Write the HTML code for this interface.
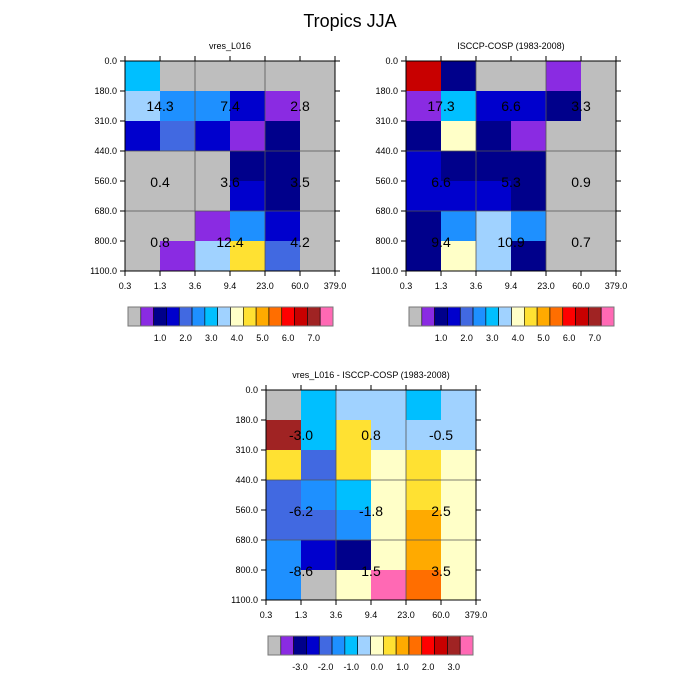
<!DOCTYPE html>
<html><head><meta charset="utf-8">
<style>
body{margin:0;background:#fff;}
svg{display:block;font-family:"Liberation Sans",sans-serif;}
</style></head>
<body>
<svg id="chart" width="700" height="700" viewBox="0 0 700 700">
<text x="350" y="27" text-anchor="middle" font-size="18">Tropics JJA</text>
</svg>
<script>
const palette=["#BEBEBE","#8A2BE2","#00008B","#0000CD","#4169E1","#1E90FF","#00BFFF","#A0D2FF","#FFFFC8","#FFE132","#FFAA00","#FF6E00","#FF0000","#C80000","#A02323","#FF69B4"];
const xTicks=["0.3","1.3","3.6","9.4","23.0","60.0","379.0"];
const yTicks=["0.0","180.0","310.0","440.0","560.0","680.0","800.0","1100.0"];
const gridA=[[6,0,0,0,0,0],[7,5,5,3,1,0],[3,4,3,1,2,0],[0,0,0,2,2,0],[0,0,0,3,2,0],[0,0,1,5,3,0],[0,1,7,9,4,0]];
const gridB=[[13,2,0,0,1,0],[1,6,3,3,2,0],[2,8,2,1,0,0],[3,2,2,2,0,0],[3,3,3,2,0,0],[2,5,7,5,0,0],[2,8,7,2,0,0]];
const gridC=[[0,6,7,7,6,7],[14,6,9,7,7,7],[9,4,9,8,9,8],[4,5,6,8,9,8],[4,4,5,8,10,8],[5,3,2,8,10,8],[5,0,8,15,11,8]];
const valsA=[["14.3","7.4","2.8"],["0.4","3.6","3.5"],["0.8","12.4","4.2"]];
const valsB=[["17.3","6.6","3.3"],["6.6","5.3","0.9"],["9.4","10.9","0.7"]];
const valsC=[["-3.0","0.8","-0.5"],["-6.2","-1.8","2.5"],["-8.6","1.5","3.5"]];
const cbLabelsAbs=["1.0","2.0","3.0","4.0","5.0","6.0","7.0"];
const cbLabelsDiff=["-3.0","-2.0","-1.0","0.0","1.0","2.0","3.0"];

const NS="http://www.w3.org/2000/svg";
const svg=document.getElementById('chart');
function mk(tag,attrs,parent){const e=document.createElementNS(NS,tag);for(const k in attrs)e.setAttribute(k,attrs[k]);(parent||svg).appendChild(e);return e;}

function panel(x0,y0,title,grid,vals,name){
  const W=210,H=210,cw=W/(xTicks.length-1),rh=H/(yTicks.length-1);
  const g=mk('g',{});
  
  
  const t=mk('text',{x:x0+W/2,y:y0-12,'text-anchor':'middle','font-size':9},g);t.textContent=title;
  
  
  grid.forEach((row,r)=>row.forEach((ci,c)=>{
    const cell=mk('rect',{x:x0+c*cw,y:y0+r*rh,width:cw+0.5,height:rh+0.5,fill:palette[ci]},g);
    
    
  }));
  [2,4].forEach(c=>mk('line',{x1:x0+c*cw,x2:x0+c*cw,y1:y0,y2:y0+H,stroke:'#555','stroke-width':0.8},g));
  [3,5].forEach(r=>mk('line',{x1:x0,x2:x0+W,y1:y0+r*rh,y2:y0+r*rh,stroke:'#555','stroke-width':0.8},g));
  mk('rect',{x:x0,y:y0,width:W,height:H,fill:'none',stroke:'#000','stroke-width':1},g);
  xTicks.forEach((l,i)=>{const x=x0+i*cw;
    mk('line',{x1:x,x2:x,y1:y0+H,y2:y0+H+5,stroke:'#000'},g);
    mk('line',{x1:x,x2:x,y1:y0,y2:y0-5,stroke:'#000'},g);
    const tx=mk('text',{x:x,y:y0+H+18,'text-anchor':'middle','font-size':9},g);tx.textContent=l;
    
    });
  yTicks.forEach((l,i)=>{const y=y0+i*rh;
    mk('line',{x1:x0-5,x2:x0,y1:y,y2:y,stroke:'#000'},g);
    mk('line',{x1:x0+W,x2:x0+W+5,y1:y,y2:y,stroke:'#000'},g);
    const ty=mk('text',{x:x0-8,y:y+3,'text-anchor':'end','font-size':9},g);ty.textContent=l;
    
    });
  const ys=[45,121,181];
  vals.forEach((row,r)=>row.forEach((v,c)=>{
    const tv=mk('text',{x:x0+(1+2*c)*cw,y:y0+ys[r]+5,'text-anchor':'middle','font-size':14},g);tv.textContent=v;
    
    }));
}
function colorbar(x0,y0,labels,name){
  const n=palette.length,bw=205/n;
  const g=mk('g',{});
  
  
  palette.forEach((c,i)=>mk('rect',{x:x0+i*bw,y:y0,width:bw,height:19,fill:c,stroke:'#000','stroke-width':0.6},g));
  mk('rect',{x:x0,y:y0,width:205,height:19,fill:'none',stroke:'#777','stroke-width':1},g);
  labels.forEach((l,i)=>{const t=mk('text',{x:x0+(2.5+2*i)*bw,y:y0+34,'text-anchor':'middle','font-size':9},g);t.textContent=l;
    
    });
}
panel(125,61,"vres_L016",gridA,valsA,"panel-model");
panel(406,61,"ISCCP-COSP (1983-2008)",gridB,valsB,"panel-obs");
panel(266,390,"vres_L016 - ISCCP-COSP (1983-2008)",gridC,valsC,"panel-diff");
colorbar(128,307,cbLabelsAbs,"colorbar-model");
colorbar(409,307,cbLabelsAbs,"colorbar-obs");
colorbar(268,636,cbLabelsDiff,"colorbar-diff");
</script>
</body></html>
